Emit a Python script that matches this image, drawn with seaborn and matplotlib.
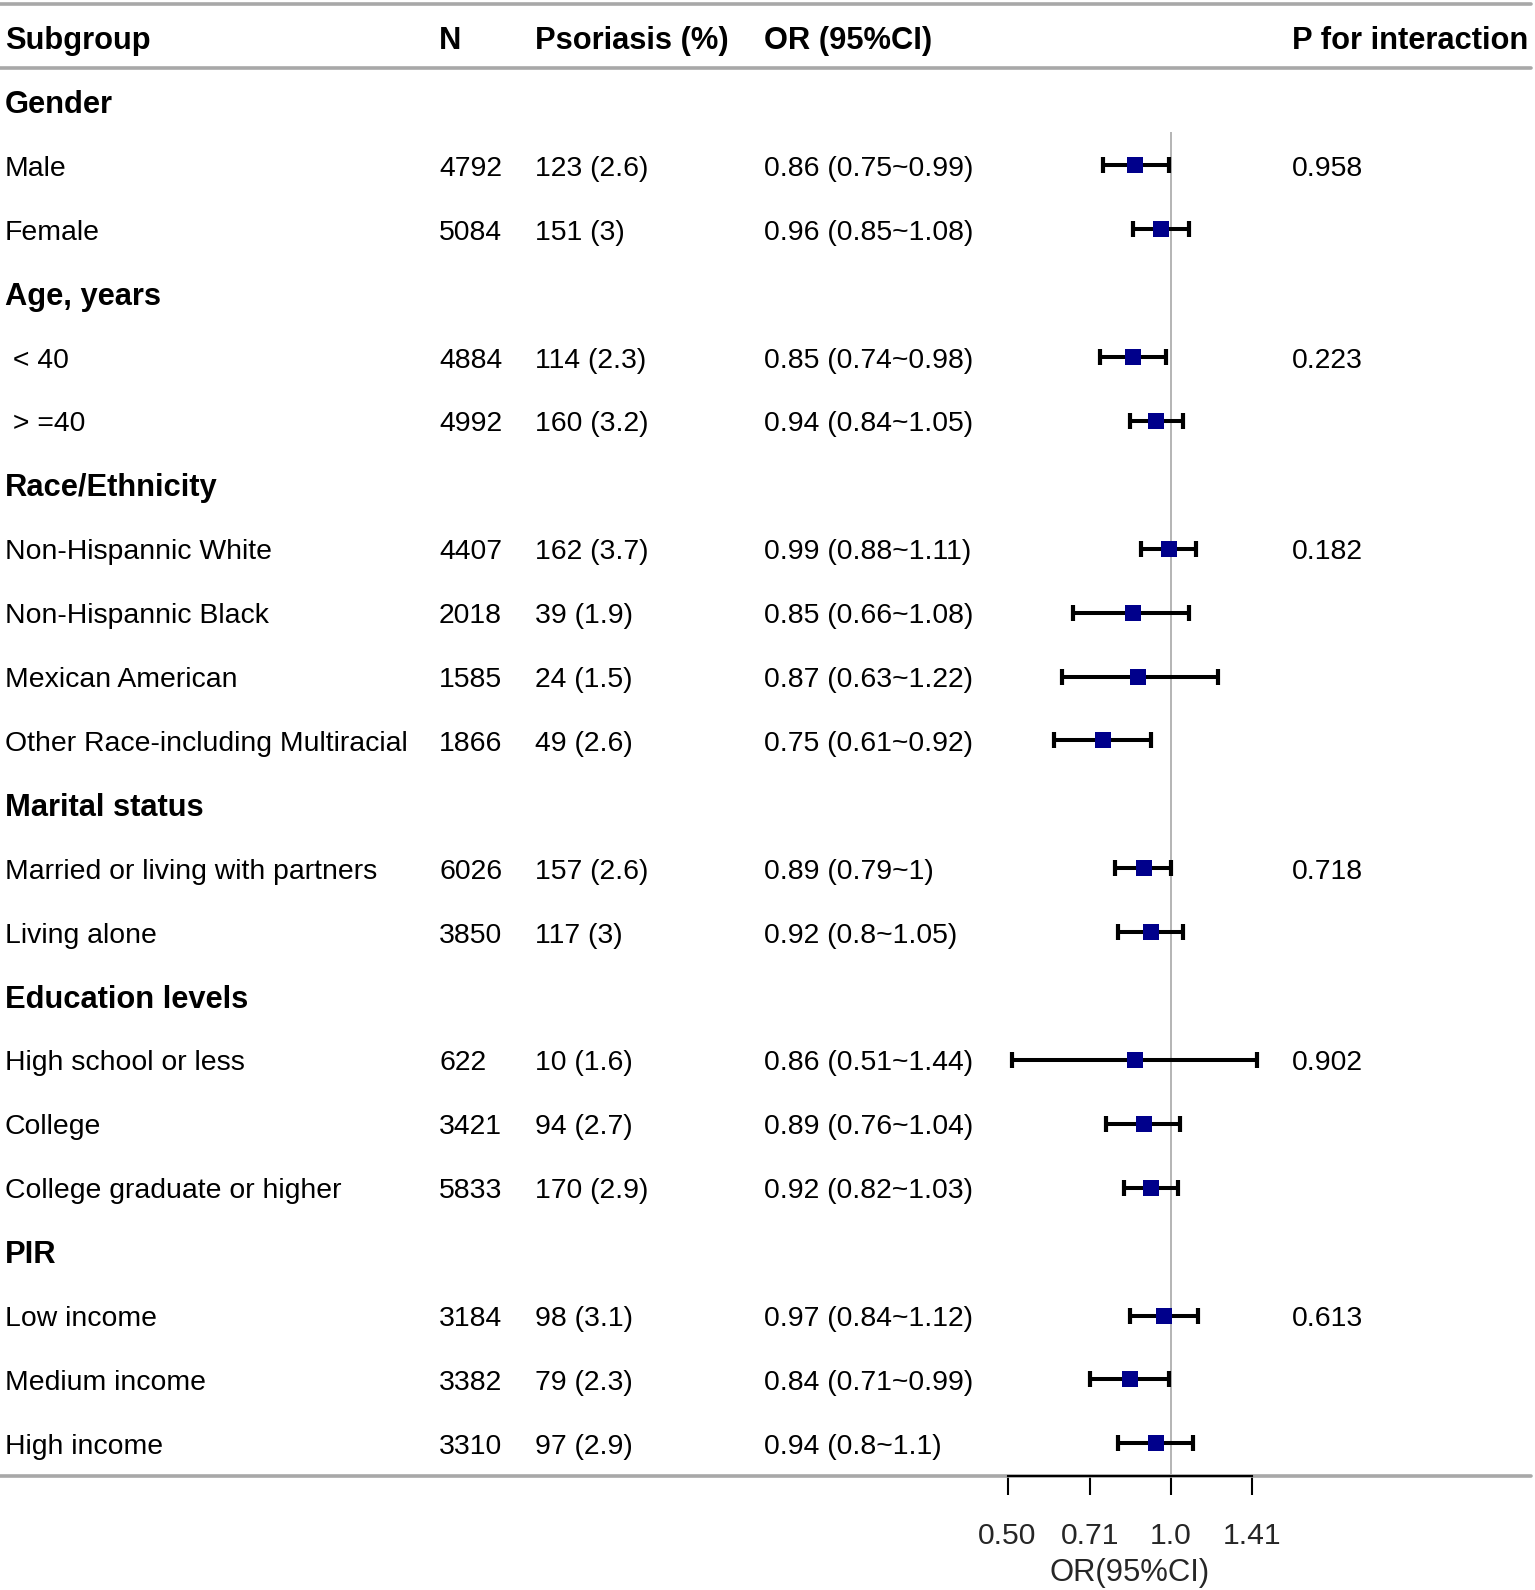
import numpy as np
import matplotlib
matplotlib.use("Agg")
import matplotlib.pyplot as plt
import matplotlib.transforms as mtransforms
import seaborn as sns

# ---------------- data ----------------
group_names = ["Gender", "Age, years", "Race/Ethnicity", "Marital status",
               "Education levels", "PIR"]
group_sizes = [2, 2, 4, 2, 3, 3]
p_interaction = ["0.958", "0.223", "0.182", "0.718", "0.902", "0.613"]

levels = ["Male", "Female", " < 40", " > =40",
          "Non-Hispannic White", "Non-Hispannic Black", "Mexican American",
          "Other Race-including Multiracial",
          "Married or living with partners", "Living alone",
          "High school or less", "College", "College graduate or higher",
          "Low income", "Medium income", "High income"]
n_total = [4792, 5084, 4884, 4992, 4407, 2018, 1585, 1866, 6026, 3850,
           622, 3421, 5833, 3184, 3382, 3310]
cases = [123, 151, 114, 160, 162, 39, 24, 49, 157, 117, 10, 94, 170, 98, 79, 97]
pct = ["2.6", "3", "2.3", "3.2", "3.7", "1.9", "1.5", "2.6", "2.6", "3",
       "1.6", "2.7", "2.9", "3.1", "2.3", "2.9"]
odds = [0.86, 0.96, 0.85, 0.94, 0.99, 0.85, 0.87, 0.75, 0.89, 0.92,
        0.86, 0.89, 0.92, 0.97, 0.84, 0.94]
lower = [0.75, 0.85, 0.74, 0.84, 0.88, 0.66, 0.63, 0.61, 0.79, 0.80,
         0.51, 0.76, 0.82, 0.84, 0.71, 0.80]
upper = [0.99, 1.08, 0.98, 1.05, 1.11, 1.08, 1.22, 0.92, 1.00, 1.05,
         1.44, 1.04, 1.03, 1.12, 0.99, 1.10]
headers = ["Subgroup", "N", "Psoriasis (%)", "OR (95%CI)", "P for interaction"]
xticks = [0.50, 0.71, 1.0, 1.41]
xtick_labels = ["0.50", "0.71", "1.0", "1.41"]
xlabel = "OR(95%CI)"

# ---------------- layout ----------------
W, H, DPI = 1535, 1590, 100
ROW0, ROWH = 37.5, 63.9           # pixel y of header row, row spacing
X_ONE, PX_PER_LOG2 = 1171, 163.5  # pixel x of OR=1, pixels per log2 unit
col_x = [5, 439, 535, 764, 1292]  # pixel x of text columns
TXT_DY = 3.5 / ROWH               # small downward shift of text

sns.set_theme(style="white")
plt.rcParams["font.family"] = ["Liberation Sans", "DejaVu Sans"]

fig = plt.figure(figsize=(W / DPI, H / DPI), dpi=DPI)
ax = fig.add_axes([0, 0, 1, 1])
ax.set_facecolor("none")
ax.set_xscale("log", base=2)
ax.set_xlim(2 ** (-X_ONE / PX_PER_LOG2), 2 ** ((W - X_ONE) / PX_PER_LOG2))
ax.set_ylim((H - ROW0) / ROWH, -ROW0 / ROWH)

def py(p):  # pixel y -> data y
    return (p - ROW0) / ROWH

# build row table
rows = []  # (label, bold, idx or None, p)
k = 0
for g, size, p in zip(group_names, group_sizes, p_interaction):
    rows.append((g, True, None, None))
    for j in range(size):
        rows.append((levels[k], False, k, p if j == 0 else None))
        k += 1

trans = mtransforms.blended_transform_factory(fig.transFigure, ax.transData)
FS, FSB = 20.4, 22.2

for i, h in enumerate(headers):
    ax.text(col_x[i] / W, 0 + TXT_DY, h, transform=trans, fontsize=FSB,
            fontweight="bold", va="center", ha="left", color="black")

y_level = []
for r, (lab, bold, idx, p) in enumerate(rows, start=1):
    if bold:
        ax.text(col_x[0] / W, r + TXT_DY, lab, transform=trans, fontsize=FSB,
                fontweight="bold", va="center", ha="left", color="black")
        continue
    y_level.append(r)
    vals = [lab, str(n_total[idx]), f"{cases[idx]} ({pct[idx]})",
            f"{odds[idx]:g} ({lower[idx]:g}~{upper[idx]:g})"]
    if p is not None:
        vals.append(p)
    for c, v in enumerate(vals):
        ax.text(col_x[c] / W, r + TXT_DY, v, transform=trans, fontsize=FS,
                va="center", ha="left", color="black")

# rules
rule_col = "#a8a8a8"
for yp in (4, 68, 1476):
    ax.axhline(py(yp), xmin=0, xmax=1531 / W, color=rule_col, lw=2.6, zorder=1)

# reference line
ax.vlines(1.0, py(132), py(1476), color="#b4b4b4", lw=1.4, zorder=1)

# CIs and points
odds_a = np.array(odds)
eb = ax.errorbar(odds_a, y_level,
                 xerr=[odds_a - np.array(lower), np.array(upper) - odds_a],
                 fmt="none", ecolor="black", elinewidth=2.9, capsize=5.6,
                 capthick=3.0, zorder=2)
for cap in eb[1]:
    cap.set_solid_capstyle("round")
sns.scatterplot(x=odds, y=y_level, marker="s", color="#00008B", s=118,
                linewidth=0, ax=ax, zorder=3, legend=False)

# axis
for s in ("top", "right", "left"):
    ax.spines[s].set_visible(False)
ax.spines["bottom"].set_visible(True)
ax.spines["bottom"].set_position(("data", py(1476)))
ax.spines["bottom"].set_bounds(xticks[0], xticks[-1])
ax.spines["bottom"].set_color("black")
ax.spines["bottom"].set_linewidth(1.5)
ax.spines["bottom"].set_zorder(4)
ax.set_xticks(xticks)
ax.set_xticklabels(xtick_labels)
ax.xaxis.set_minor_locator(matplotlib.ticker.NullLocator())
ax.tick_params(axis="x", which="major", direction="out", length=13.7, width=1.5,
               color="black", labelsize=21.7, pad=19.5, bottom=True)
ax.set_yticks([])
ax.set_xlabel(xlabel, fontsize=22.3)
ax.xaxis.set_label_coords(1130 / W, (H - 1573) / H)
ax.xaxis.label.set_va("center")
ax.set_ylabel("")
ax.grid(False)

fig.savefig("out.png", dpi=DPI)
